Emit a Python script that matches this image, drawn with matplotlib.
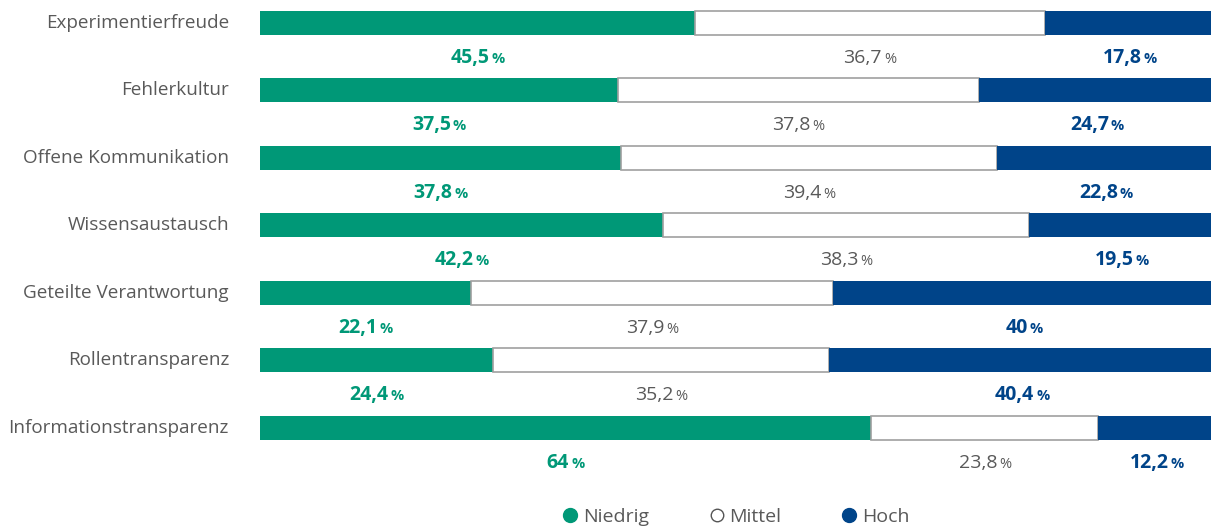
import matplotlib
matplotlib.use("Agg")
import matplotlib.pyplot as plt
from matplotlib.lines import Line2D
from matplotlib.transforms import ScaledTranslation

categories = ["Experimentierfreude", "Fehlerkultur", "Offene Kommunikation",
              "Wissensaustausch", "Geteilte Verantwortung", "Rollentransparenz",
              "Informationstransparenz"]
niedrig = [45.5, 37.5, 37.8, 42.2, 22.1, 24.4, 64]
mittel = [36.7, 37.8, 39.4, 38.3, 37.9, 35.2, 23.8]
hoch = [17.8, 24.7, 22.8, 19.5, 40, 40.4, 12.2]
series_names = ["Niedrig", "Mittel", "Hoch"]

green = "#009877"
blue = "#004489"
grey_txt = "#595959"
edge = "#a0a0a0"

plt.rcParams['font.family'] = ['Open Sans', 'DejaVu Sans']

W, H = 1211, 527
fig = plt.figure(figsize=(W / 100, H / 100), dpi=100)
ax = fig.add_axes([260 / W, 0, 951 / W, 1])
ax.set_xlim(0, 100 * 951 / 955)
row = 67.5
ax.set_ylim((H - 23) / row, -23 / row)
ax.axis("off")

bh = 24 / row
y = list(range(len(categories)))
left2 = [a for a in niedrig]
left3 = [a + b for a, b in zip(niedrig, mittel)]
ax.barh(y, niedrig, height=bh, color=green, linewidth=0)
ax.barh(y, mittel, left=left2, height=bh, color="white", edgecolor=edge, linewidth=1.2)
ax.barh(y, hoch, left=left3, height=bh, color=blue, linewidth=0)

for i, c in enumerate(categories):
    ax.text(-31 / 955 * 100, i, c, ha="right", va="center", fontsize=13.6, color=grey_txt)

renderer = fig.canvas.get_renderer()

def fmt(v):
    s = ("%g" % v).replace(".", ",")
    return s

def label(xc, yc, v, color, weight):
    t1 = ax.text(xc, yc, fmt(v), ha="left", va="baseline", fontsize=14,
                 color=color, fontweight=weight)
    t2 = ax.text(xc, yc, "%", ha="left", va="baseline", fontsize=10.5,
                 color=color, fontweight=weight)
    w1 = t1.get_window_extent(renderer).width
    w2 = t2.get_window_extent(renderer).width
    gap = 2
    total = w1 + gap + w2
    t1.set_transform(ax.transData + ScaledTranslation(-total / 2 / 100, 0, fig.dpi_scale_trans))
    t2.set_transform(ax.transData + ScaledTranslation((-total / 2 + w1 + gap) / 100, 0, fig.dpi_scale_trans))

off = 40 / row
for i in y:
    label(niedrig[i] / 2, i + off, niedrig[i], green, "bold")
    label(left2[i] + mittel[i] / 2, i + off, mittel[i], grey_txt, "normal")
    label(left3[i] + hoch[i] / 2, i + off, hoch[i], blue, "bold")

handles = [
    Line2D([], [], marker="o", linestyle="", markersize=10, markerfacecolor=green, markeredgecolor=green),
    Line2D([], [], marker="o", linestyle="", markersize=9, markerfacecolor="white", markeredgecolor="#555555", markeredgewidth=1),
    Line2D([], [], marker="o", linestyle="", markersize=10, markerfacecolor=blue, markeredgecolor=blue),
]
leg = fig.legend(handles, series_names, loc="center", bbox_to_anchor=(734 / W, 1 - 517 / H),
                 ncol=3, frameon=False, fontsize=14, handletextpad=0.05, columnspacing=2.9,
                 handlelength=1.2)
for t in leg.get_texts():
    t.set_color(grey_txt)

fig.savefig("out.png", dpi=100)
